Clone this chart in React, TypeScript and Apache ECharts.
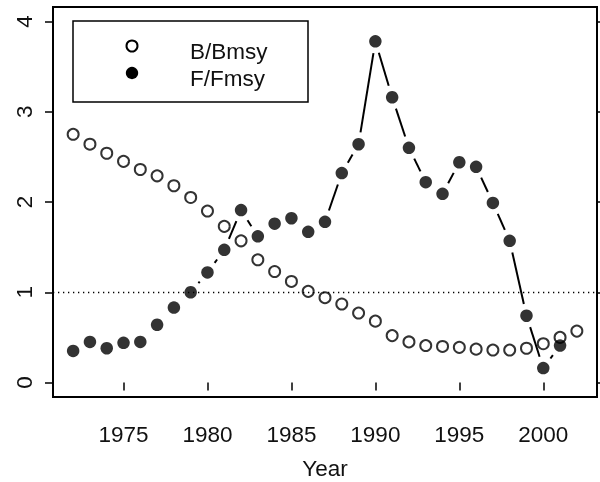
import { useEffect, useRef } from "react";
import * as echarts from "echarts";

const years = [
  1972, 1973, 1974, 1975, 1976, 1977, 1978, 1979, 1980, 1981, 1982, 1983, 1984, 1985, 1986, 1987,
  1988, 1989, 1990, 1991, 1992, 1993, 1994, 1995, 1996, 1997, 1998, 1999, 2000, 2001, 2002,
];
const bRatio = [
  2.75, 2.64, 2.54, 2.45, 2.36, 2.29, 2.18, 2.05, 1.9, 1.73, 1.57, 1.36, 1.23, 1.12, 1.01, 0.94,
  0.87, 0.77, 0.68, 0.52, 0.45, 0.41, 0.4, 0.39, 0.37, 0.36, 0.36, 0.38, 0.43, 0.5, 0.57,
];
const fRatio = [
  0.35, 0.45, 0.38, 0.44, 0.45, 0.64, 0.83, 1.0, 1.22, 1.47, 1.91, 1.62, 1.76, 1.82, 1.67, 1.78,
  2.32, 2.64, 3.78, 3.16, 2.6, 2.22, 2.09, 2.44, 2.39, 1.99, 1.57, 0.74, 0.16, 0.41,
];
const xTicks = [1975, 1980, 1985, 1990, 1995, 2000];
const yTicks = [0, 1, 2, 3, 4];
const refLevel = 1;
const legendLabels = ["B/Bmsy", "F/Fmsy"];
const xLabel = "Year";

export default function App() {
  const ref = useRef<HTMLDivElement>(null);
  useEffect(() => {
    const chart = echarts.init(ref.current!, null, { renderer: "svg" });
    const font = "'Liberation Sans', Arial, Helvetica, sans-serif";
    const fs = 22.5;
    const bData = years.map((y, i) => [y, bRatio[i]]);
    const fData = years.slice(0, fRatio.length).map((y, i) => [y, fRatio[i]]);
    const segs = fData.slice(0, -1).map((p, i) => [p[0], p[1], fData[i + 1][0], fData[i + 1][1]]);
    const GAP = 12;
    const xMin = 1970.8, xMax = 2003.2, yMin = -0.16, yMax = 4.16;
    const tickStyle = { color: "#000", width: 1.5 };
    const txt = "#111";
    chart.setOption({
      animation: false,
      grid: {
        left: 53, top: 7, right: 3, bottom: 85, show: true, borderColor: "#000", borderWidth: 2,
        backgroundColor: "transparent", containLabel: false, outerBoundsMode: "none",
      },
      xAxis: {
        type: "value", min: xMin, max: xMax,
        axisLine: { show: false }, splitLine: { show: false },
        axisTick: { show: true, length: 8, lineStyle: tickStyle, customValues: xTicks },
        axisLabel: { customValues: xTicks, fontSize: fs, color: txt, fontFamily: font, margin: 26, formatter: (v: number) => String(v) },
        name: xLabel, nameLocation: "middle", nameGap: 60,
        nameTextStyle: { fontSize: fs, color: txt, fontFamily: font },
      },
      yAxis: [
        {
          type: "value", min: yMin, max: yMax,
          axisLine: { show: false }, splitLine: { show: false },
          axisTick: { show: true, length: 8, lineStyle: tickStyle, customValues: yTicks },
          axisLabel: { customValues: yTicks, fontSize: fs, color: txt, fontFamily: font, margin: 17, rotate: 90 },
        },
        {
          type: "value", min: yMin, max: yMax, position: "right",
          axisLine: { show: false }, splitLine: { show: false },
          axisTick: { show: true, length: 8, lineStyle: tickStyle, customValues: yTicks },
          axisLabel: { show: false, customValues: yTicks },
        },
      ],
      series: [
        {
          type: "scatter", name: legendLabels[0], data: bData, symbol: "circle", symbolSize: 11, z: 2,
          itemStyle: { color: "transparent", borderColor: "#000", borderWidth: 2 },
          markLine: {
            silent: true, symbol: ["none", "none"], label: { show: false },
            lineStyle: { color: "#000", width: 1.3, type: [1.3, 3.7] },
            data: [{ yAxis: refLevel }],
          },
        },
        {
          type: "custom", name: legendLabels[1] + " line", data: segs, z: 3,
          encode: { x: [0, 2], y: [1, 3] },
          renderItem: (_p: any, api: any) => {
            const p1 = api.coord([api.value(0), api.value(1)]);
            const p2 = api.coord([api.value(2), api.value(3)]);
            const dx = p2[0] - p1[0], dy = p2[1] - p1[1];
            const len = Math.hypot(dx, dy);
            if (len <= 2 * GAP) return { type: "group", children: [] };
            const ux = dx / len, uy = dy / len;
            return {
              type: "line",
              shape: { x1: p1[0] + ux * GAP, y1: p1[1] + uy * GAP, x2: p2[0] - ux * GAP, y2: p2[1] - uy * GAP },
              style: { stroke: "#000", lineWidth: 2 },
            };
          },
        },
        {
          type: "scatter", name: legendLabels[1], data: fData, symbol: "circle", symbolSize: 12.5, z: 4,
          itemStyle: { color: "#000" },
        },
      ],
      graphic: [
        { type: "rect", z: 100, shape: { x: 73, y: 21, width: 235, height: 81 }, style: { fill: "#fff", stroke: "#000", lineWidth: 1.5 } },
        { type: "circle", z: 101, shape: { cx: 132, cy: 46, r: 5.5 }, style: { fill: "none", stroke: "#000", lineWidth: 2 } },
        { type: "circle", z: 101, shape: { cx: 132, cy: 73, r: 6.2 }, style: { fill: "#000" } },
        { type: "text", z: 101, x: 190, y: 51, style: { text: legendLabels[0], fontSize: fs, fontFamily: font, fill: txt, verticalAlign: "middle", align: "left" } },
        { type: "text", z: 101, x: 190, y: 78, style: { text: legendLabels[1], fontSize: fs, fontFamily: font, fill: txt, verticalAlign: "middle", align: "left" } },
      ],
    });
    return () => chart.dispose();
  }, []);
  return <div ref={ref} style={{ position: "fixed", left: 0, top: 0, width: 600, height: 482 }} />;
}
